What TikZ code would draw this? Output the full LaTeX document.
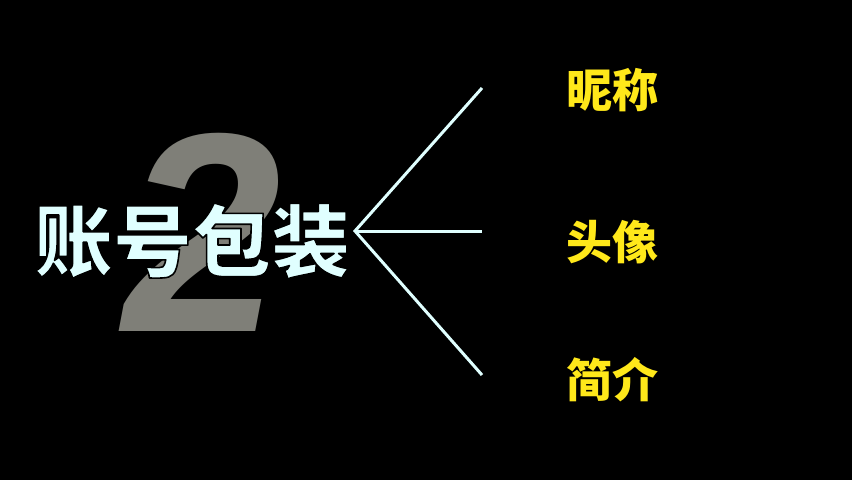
\documentclass[tikz,border=0pt]{standalone}
\usepackage{fontspec}
\newfontfamily\cjk{Noto Sans CJK SC}
\setmainfont{Liberation Sans}
\usepackage{xcolor}
\usepackage{tikz}
\usetikzlibrary{positioning,calc}

\definecolor{bigtwo}{HTML}{7F7F78}
\definecolor{titlecyan}{HTML}{E0FFFF}
\definecolor{labelyellow}{HTML}{FFE81A}

% outlined text: fill, then a black rim
\newcommand{\rimtext}[1]{\special{pdf:literal direct 2 Tr 1.6 w 1 j 0 0 0 RG}#1\special{pdf:literal direct 0 Tr}}

\tikzset{
	branch/.style={draw=titlecyan, line width=3pt},
	itemlabel/.style={text=labelyellow, font=\cjk\bfseries\fontsize{46}{46}\selectfont, inner sep=0pt},
	titletext/.style={text=titlecyan, font=\cjk\bfseries\fontsize{79}{79}\selectfont, inner sep=0pt}
}

\begin{document}
\begin{tikzpicture}[x=1pt,y=-1pt]
		\fill[black] (0,0) rectangle (852,480);
		\useasboundingbox (0,0) rectangle (852,480);

		% big number behind the title
		\node[text=bigtwo, font=\bfseries\itshape\fontsize{284}{284}\selectfont, inner sep=0pt] (two) at (202,232) {2};

		\node[titletext] (title) at (192,241) {\rimtext{账号包装}};

		\coordinate (hub) at (355,231);
		\coordinate (e1) at (482,88);
		\coordinate (e2) at (482,231);
		\coordinate (e3) at (482,375);
		\draw[branch] (e1) -- (hub) -- (e3);
		\draw[branch] (hub) -- (e2);

		\node[itemlabel] (nick) at (612,90) {昵称};
		\node[itemlabel] (avatar) at (612,242) {头像};
		\node[itemlabel] (intro) at (612,380) {简介};
	\end{tikzpicture}
\end{document}
